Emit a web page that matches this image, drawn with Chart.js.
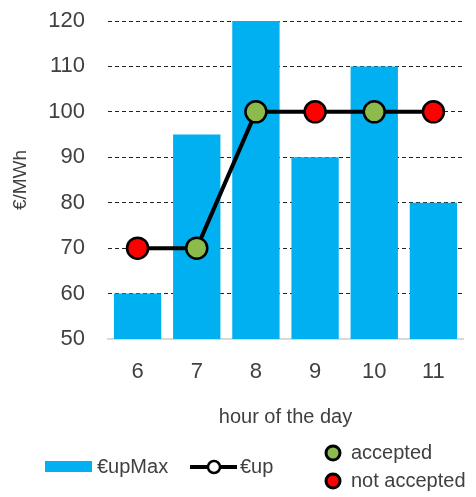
<!DOCTYPE html>
<html>
<head>
<meta charset="utf-8">
<script src="https://cdn.jsdelivr.net/npm/chart.js@4"></script>
<style>
  html, body { margin: 0; padding: 0; background: #ffffff; }
  #wrap { width: 476px; height: 497px; position: relative; }
</style>
</head>
<body>
<div id="wrap"><canvas id="c" width="476" height="497"></canvas></div>
<script>
// Hours of the day on the category axis
const hours = ['6', '7', '8', '9', '10', '11'];
// Maximum upward price per hour (bars), €/MWh
const upMax = [60, 95, 120, 90, 110, 80];
// Offered upward price per hour (line), €/MWh
const up = [70, 70, 100, 100, 100, 100];
// Whether the offer in each hour was accepted
const accepted = [false, true, true, false, true, false];
// Value axis ticks
const yMin = 50, yMax = 120, yStep = 10;

const FONT = "'Liberation Sans', Arial, sans-serif";
const TEXT = '#404040';
const BLUE = '#00B0F0';
const GREEN = '#8CBB4C';
const RED = '#FF0000';

const pointColors = accepted.map(a => a ? GREEN : RED);

// Legend drawn under the plot: series keys on the left, marker keys on the right
const bottomLegend = {
  id: 'bottomLegend',
  afterDraw(chart) {
    const ctx = chart.ctx;
    ctx.save();
    ctx.font = '20px ' + FONT;
    ctx.textBaseline = 'middle';
    ctx.textAlign = 'left';

    // bar key
    ctx.fillStyle = BLUE;
    ctx.fillRect(45, 461, 47, 11);
    ctx.fillStyle = TEXT;
    ctx.fillText('€upMax', 97, 467);

    // line key
    ctx.strokeStyle = '#000';
    ctx.lineWidth = 4;
    ctx.beginPath();
    ctx.moveTo(190, 467);
    ctx.lineTo(237, 467);
    ctx.stroke();
    ctx.beginPath();
    ctx.arc(214, 467, 6, 0, Math.PI * 2);
    ctx.fillStyle = '#fff';
    ctx.fill();
    ctx.lineWidth = 2.5;
    ctx.stroke();
    ctx.fillStyle = TEXT;
    ctx.fillText('€up', 240, 467);

    // marker keys
    const marks = [[GREEN, 'accepted', 453], [RED, 'not accepted', 481]];
    for (const [col, label, y] of marks) {
      ctx.beginPath();
      ctx.arc(333, y, 7, 0, Math.PI * 2);
      ctx.fillStyle = col;
      ctx.fill();
      ctx.lineWidth = 3;
      ctx.strokeStyle = '#000';
      ctx.stroke();
      ctx.fillStyle = TEXT;
      ctx.fillText(label, 351, y);
    }
    ctx.restore();
  }
};

new Chart(document.getElementById('c'), {
  type: 'bar',
  data: {
    labels: hours,
    datasets: [
      {
        type: 'line',
        label: '€up',
        data: up,
        borderColor: '#000',
        borderWidth: 4,
        pointRadius: 10.5,
        pointHoverRadius: 10.5,
        pointBackgroundColor: pointColors,
        pointBorderColor: '#000',
        pointBorderWidth: 2.5,
        tension: 0,
        order: 1
      },
      {
        type: 'bar',
        label: '€upMax',
        data: upMax,
        backgroundColor: BLUE,
        borderWidth: 0,
        barPercentage: 0.8,
        categoryPercentage: 1.0,
        order: 2
      }
    ]
  },
  options: {
    responsive: false,
    animation: false,
    events: [],
    layout: { autoPadding: false, padding: { left: 0, top: 0, right: 13, bottom: 68 } },
    plugins: {
      legend: { display: false },
      tooltip: { enabled: false }
    },
    scales: {
      x: {
        grid: { display: false },
        border: { display: true, color: '#D9D9D9', width: 2 },
        ticks: { color: TEXT, font: { family: FONT, size: 22 }, padding: 12 },
        title: {
          display: true, text: 'hour of the day', color: TEXT,
          font: { family: FONT, size: 20 }, padding: { top: 0, bottom: 0 }
        },
        afterFit(scale) { scale.height = 90; }
      },
      y: {
        min: yMin, max: yMax,
        ticks: { stepSize: yStep, color: TEXT, font: { family: FONT, size: 22 }, padding: 23 },
        grid: { color: '#222', lineWidth: 1, drawTicks: false },
        border: { display: false, dash: [4, 3] },
        title: {
          display: true, text: '€/MWh', color: TEXT,
          font: { family: FONT, size: 19 }, padding: { top: 9, bottom: 0 }
        },
        afterFit(scale) {
          scale.width = 108;
          // room above the top tick, without the horizontal tick gap
          scale.paddingTop = 21;
          scale.paddingBottom = 13;
        }
      }
    }
  },
  plugins: [bottomLegend]
});
</script>
</body>
</html>
